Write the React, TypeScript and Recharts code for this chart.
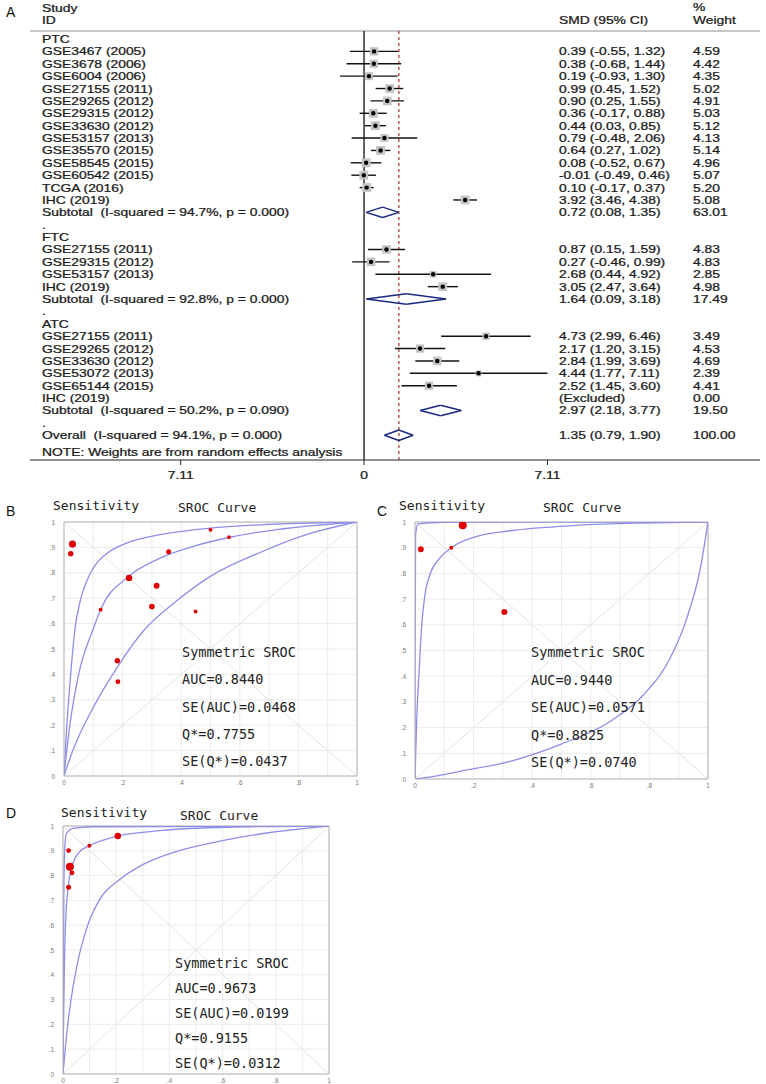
import React from 'react';
import { ComposedChart, XAxis, YAxis, Scatter, Line, ReferenceLine, CartesianGrid } from 'recharts';

// ---- Panel A: forest plot rows ----
const rowLabels = [
  'PTC', 'GSE3467 (2005)', 'GSE3678 (2006)', 'GSE6004 (2006)', 'GSE27155 (2011)', 'GSE29265 (2012)',
  'GSE29315 (2012)', 'GSE33630 (2012)', 'GSE53157 (2013)', 'GSE35570 (2015)', 'GSE58545 (2015)',
  'GSE60542 (2015)', 'TCGA (2016)', 'IHC (2019)', 'Subtotal  (I-squared = 94.7%, p = 0.000)', '.',
  'FTC', 'GSE27155 (2011)', 'GSE29315 (2012)', 'GSE53157 (2013)', 'IHC (2019)',
  'Subtotal  (I-squared = 92.8%, p = 0.000)', '.',
  'ATC', 'GSE27155 (2011)', 'GSE29265 (2012)', 'GSE33630 (2012)', 'GSE53072 (2013)', 'GSE65144 (2015)',
  'IHC (2019)', 'Subtotal  (I-squared = 50.2%, p = 0.090)', '.',
  'Overall  (I-squared = 94.1%, p = 0.000)',
];
// study | sub | excl | head
const rowKinds = [
  'head', 'study', 'study', 'study', 'study', 'study', 'study', 'study', 'study', 'study', 'study', 'study', 'study', 'study', 'sub', 'head',
  'head', 'study', 'study', 'study', 'study', 'sub', 'head',
  'head', 'study', 'study', 'study', 'study', 'study', 'excl', 'sub', 'head',
  'sub',
];
const smdEst = [
  null, 0.39, 0.38, 0.19, 0.99, 0.90, 0.36, 0.44, 0.79, 0.64, 0.08, -0.01, 0.10, 3.92, 0.72, null,
  null, 0.87, 0.27, 2.68, 3.05, 1.64, null,
  null, 4.73, 2.17, 2.84, 4.44, 2.52, null, 2.97, null,
  1.35,
];
const ciLow = [
  null, -0.55, -0.68, -0.93, 0.45, 0.25, -0.17, 0.03, -0.48, 0.27, -0.52, -0.49, -0.17, 3.46, 0.08, null,
  null, 0.15, -0.46, 0.44, 2.47, 0.09, null,
  null, 2.99, 1.20, 1.99, 1.77, 1.45, null, 2.18, null,
  0.79,
];
const ciHigh = [
  null, 1.32, 1.44, 1.30, 1.52, 1.55, 0.88, 0.85, 2.06, 1.02, 0.67, 0.46, 0.37, 4.38, 1.35, null,
  null, 1.59, 0.99, 4.92, 3.64, 3.18, null,
  null, 6.46, 3.15, 3.69, 7.11, 3.60, null, 3.77, null,
  1.90,
];
const weights = [
  null, 4.59, 4.42, 4.35, 5.02, 4.91, 5.03, 5.12, 4.13, 5.14, 4.96, 5.07, 5.20, 5.08, 63.01, null,
  null, 4.83, 4.83, 2.85, 4.98, 17.49, null,
  null, 3.49, 4.53, 4.69, 2.39, 4.41, 0.0, 19.50, null,
  100.0,
];
const axisTicks = [-7.11, 0, 7.11];

// ---- SROC panels (false positive rate, sensitivity, relative study weight) ----
const bFpr = [0.029, 0.023, 0.5, 0.563, 0.357, 0.222, 0.316, 0.125, 0.30, 0.449, 0.182, 0.184];
const bSens = [0.913, 0.875, 0.969, 0.94, 0.883, 0.78, 0.749, 0.655, 0.667, 0.648, 0.454, 0.371];
const bW = [7.6, 4.3, 2.3, 2.1, 3.7, 6.2, 5.0, 2.3, 4.7, 2.3, 4.3, 3.4];
const bUpper = [[0, 0], [0.008, 0.17], [0.02, 0.36], [0.038, 0.583], [0.055, 0.688], [0.077, 0.766], [0.1, 0.819], [0.157, 0.885], [0.214, 0.917], [0.328, 0.95], [0.498, 0.976], [0.669, 0.989], [1, 1]];
const bMid = [[0, 0], [0.02, 0.2], [0.05, 0.4], [0.1, 0.58], [0.129, 0.665], [0.214, 0.78], [0.328, 0.858], [0.441, 0.904], [0.567, 0.94], [0.726, 0.97], [1, 1]];
const bLower = [[0, 0], [0.03, 0.1], [0.1, 0.27], [0.18, 0.425], [0.27, 0.57], [0.385, 0.69], [0.498, 0.785], [0.669, 0.88], [0.84, 0.955], [1, 1]];

const cFpr = [0.02, 0.124, 0.163, 0.305];
const cSens = [0.894, 0.90, 0.987, 0.65];
const cW = [5.0, 2.3, 9.5, 5.4];
const cUpper = [[0, 0], [0.0005, 0.5], [0.002, 0.95], [0.01, 0.993], [0.1, 0.999], [1, 1]];
const cMid = [[0, 0], [0.006, 0.237], [0.015, 0.44], [0.023, 0.6], [0.034, 0.717], [0.051, 0.795], [0.085, 0.86], [0.124, 0.9], [0.211, 0.944], [0.325, 0.966], [0.552, 0.987], [0.78, 0.996], [1, 1]];
const cLower = [[0, 0], [0.04, 0.006], [0.154, 0.03], [0.325, 0.069], [0.495, 0.134], [0.666, 0.224], [0.78, 0.328], [0.871, 0.471], [0.928, 0.626], [0.974, 0.821], [1, 1]];

const dFpr = [0.021, 0.099, 0.206, 0.026, 0.034, 0.021];
const dSens = [0.901, 0.92, 0.96, 0.836, 0.811, 0.753];
const dW = [3.4, 2.3, 6.2, 9.5, 3.4, 3.7];
const dUpper = [[0, 0], [0.001, 0.3], [0.003, 0.7], [0.006, 0.9], [0.013, 0.97], [0.038, 0.99], [0.113, 0.997], [1, 1]];
const dMid = [[0, 0], [0.002, 0.2], [0.005, 0.42], [0.01, 0.62], [0.02, 0.757], [0.038, 0.851], [0.063, 0.897], [0.098, 0.92], [0.207, 0.96], [0.364, 0.981], [0.614, 0.995], [1, 1]];
const dLower = [[0, 0], [0.01, 0.12], [0.025, 0.26], [0.05, 0.424], [0.088, 0.584], [0.138, 0.704], [0.213, 0.784], [0.3, 0.844], [0.426, 0.897], [0.614, 0.944], [0.802, 0.977], [1, 1]];

const bStats = ['Symmetric SROC', 'AUC=0.8440', 'SE(AUC)=0.0468', 'Q*=0.7755', 'SE(Q*)=0.0437'];
const cStats = ['Symmetric SROC', 'AUC=0.9440', 'SE(AUC)=0.0571', 'Q*=0.8825', 'SE(Q*)=0.0740'];
const dStats = ['Symmetric SROC', 'AUC=0.9673', 'SE(AUC)=0.0199', 'Q*=0.9155', 'SE(Q*)=0.0312'];
const unitTicks = [0, 0.1, 0.2, 0.3, 0.4, 0.5, 0.6, 0.7, 0.8, 0.9, 1];

// ---- styles ----
const stataFont = {
  fontFamily: 'Liberation Sans, Arial, sans-serif', fontSize: 10.5, fill: '#1a1a1a',
  stroke: '#1a1a1a', strokeWidth: 0.25, whiteSpace: 'pre',
} as React.CSSProperties;
const monoFont = { fontFamily: 'DejaVu Sans Mono, monospace', fill: '#222' } as React.CSSProperties;
const STRETCH = 1.32;
const curveColor = '#8e8ee8';
const yDomain: [number, number] = [-0.646, 34.0];
const xDomain: [number, number] = [-12.95, 15.35];

const fmt = (v: number) => v.toFixed(2);

const Stretched = ({ x, y, children, anchor = 'start' }: any) => (
  <text transform={`translate(${x},${y}) scale(${STRETCH},1)`} textAnchor={anchor} style={stataFont}>{children}</text>
);

const RowTick = (props: any) => {
  const i = props.payload.value as number;
  const y = props.y + 4;
  const kind = rowKinds[i];
  let smdText = '';
  let wText = '';
  if (kind === 'study' || kind === 'sub') {
    smdText = `${fmt(smdEst[i] as number)} (${fmt(ciLow[i] as number)}, ${fmt(ciHigh[i] as number)})`;
    wText = fmt(weights[i] as number);
  } else if (kind === 'excl') {
    smdText = '(Excluded)';
    wText = fmt(weights[i] as number);
  }
  return (
    <g>
      <Stretched x={42} y={y}>{rowLabels[i]}</Stretched>
      {smdText && <Stretched x={559} y={y}>{smdText}</Stretched>}
      {wText && <Stretched x={693} y={y}>{wText}</Stretched>}
    </g>
  );
};

const AxisTick = (props: any) => (
  <Stretched x={props.x} y={props.y + 12} anchor="middle">{String(Math.abs(props.payload.value))}</Stretched>
);

const StudyMark = (props: any) => {
  const s = 3.9 * Math.sqrt(props.payload.w);
  return (
    <g>
      <rect x={props.cx - s / 2} y={props.cy - s / 2} width={s} height={s} fill="#c4c4c4" />
      <circle cx={props.cx} cy={props.cy} r={2.2} fill="#000" />
    </g>
  );
};

const rowIdx = rowLabels.map((_, i) => i);
const studyPts = rowIdx
  .filter((i) => rowKinds[i] === 'study')
  .map((i) => ({ x: smdEst[i] as number, y: i, w: weights[i] as number }));
const ciRows = rowIdx.filter((i) => rowKinds[i] === 'study');
const diamondRows = rowIdx.filter((i) => rowKinds[i] === 'sub');
const DH = 0.42;

const ForestPlot = () => (
  <div style={{ position: 'absolute', left: 0, top: 0 }}>
    <ComposedChart width={766} height={484} margin={{ top: 31, right: 6, left: 28, bottom: 0 }}>
      <XAxis type="number" dataKey="x" domain={xDomain} allowDataOverflow ticks={axisTicks} interval={0} height={24}
        axisLine={{ stroke: '#222' }} tickLine={{ stroke: '#222' }} tickSize={5} tick={(p: any) => <AxisTick {...p} />} />
      <YAxis type="number" dataKey="y" domain={yDomain} allowDataOverflow reversed width={2} ticks={rowIdx} interval={0}
        axisLine={false} tickLine={false} tick={(p: any) => <RowTick {...p} />} />
      <ReferenceLine y={yDomain[0]} stroke="#c8c8c8" strokeWidth={2} ifOverflow="visible" />
      <ReferenceLine x={0} stroke="#111" strokeWidth={1.3} />
      <ReferenceLine x={smdEst[32] as number} stroke="#a8322c" strokeWidth={1.2} strokeDasharray="3 3" />
      {ciRows.map((i) => (
        <ReferenceLine key={`ci${i}`} segment={[{ x: ciLow[i] as number, y: i }, { x: ciHigh[i] as number, y: i }]}
          stroke="#111" strokeWidth={1.4} ifOverflow="visible" />
      ))}
      {diamondRows.map((i) => {
        const lo = ciLow[i] as number, hi = ciHigh[i] as number, m = smdEst[i] as number;
        const edges = [
          [{ x: lo, y: i }, { x: m, y: i - DH }],
          [{ x: m, y: i - DH }, { x: hi, y: i }],
          [{ x: hi, y: i }, { x: m, y: i + DH }],
          [{ x: m, y: i + DH }, { x: lo, y: i }],
        ];
        return edges.map((seg, k) => (
          <ReferenceLine key={`d${i}-${k}`} segment={seg as any} stroke="#1b2a80" strokeWidth={1.5} ifOverflow="visible" />
        ));
      })}
      <Scatter data={studyPts} shape={(p: any) => <StudyMark {...p} />} isAnimationActive={false} />
    </ComposedChart>
  </div>
);

// ---- SROC panels ----
const tenth = (v: number) => (v === 0 ? '0' : v === 1 ? '1' : '.' + Math.round(v * 10));

const SrocYTick = (props: any) => (
  <text x={props.x - 1} y={props.y + 2.5} textAnchor="end" fontSize={6.5} fill="#777" fontFamily="Liberation Sans, Arial">
    {tenth(props.payload.value)}
  </text>
);
const SrocXTick = (props: any) => {
  const v = props.payload.value as number;
  if (Math.round(v * 10) % 2 !== 0) return <g />;
  return (
    <text x={props.x} y={props.y + 1} textAnchor="middle" fontSize={6.5} fill="#777" fontFamily="Liberation Sans, Arial">
      {tenth(v)}
    </text>
  );
};

const RedDot = (props: any) => (
  <circle cx={props.cx} cy={props.cy} r={1.3 * Math.sqrt(props.payload.w)} fill="#e00000" />
);

const toPts = (c: number[][]) => c.map(([x, y]) => ({ x, y }));

const SrocPanel = ({ left, top, w, h, fpr, sens, wt, curves }: any) => {
  const dots = fpr.map((x: number, i: number) => ({ x, y: sens[i], w: wt[i] }));
  return (
    <div style={{ position: 'absolute', left: left - 30, top: top - 10 }}>
      <ComposedChart width={w + 40} height={h + 25} margin={{ top: 10, right: 10, left: 14, bottom: 0 }}>
        <CartesianGrid stroke="#ececec" />
        <XAxis type="number" dataKey="x" domain={[0, 1]} allowDataOverflow ticks={unitTicks} interval={0} height={15}
          axisLine={{ stroke: '#b4b4b4' }} tickLine={false} tick={(p: any) => <SrocXTick {...p} />} />
        <YAxis type="number" dataKey="y" domain={[0, 1]} allowDataOverflow ticks={unitTicks} interval={0} width={16}
          axisLine={{ stroke: '#b4b4b4' }} tickLine={false} tick={(p: any) => <SrocYTick {...p} />} />
        <ReferenceLine y={1} stroke="#b4b4b4" ifOverflow="visible" />
        <ReferenceLine x={1} stroke="#b4b4b4" ifOverflow="visible" />
        <ReferenceLine segment={[{ x: 0, y: 0 }, { x: 1, y: 1 }]} stroke="#e2e2e2" ifOverflow="visible" />
        <ReferenceLine segment={[{ x: 0, y: 1 }, { x: 1, y: 0 }]} stroke="#e2e2e2" ifOverflow="visible" />
        {curves.map((c: number[][], k: number) => (
          <Line key={k} data={toPts(c)} dataKey="y" type="monotone" stroke={curveColor} strokeWidth={1.3}
            dot={false} activeDot={false} isAnimationActive={false} />
        ))}
        <Scatter data={dots} shape={(p: any) => <RedDot {...p} />} isAnimationActive={false} />
      </ComposedChart>
    </div>
  );
};

const StatBlock = ({ x, y, lines, gap }: any) => (
  <>
    {lines.map((t: string, i: number) => (
      <text key={i} x={x} y={y + i * gap} fontSize={13.5} style={monoFont}>{t}</text>
    ))}
  </>
);

const Letter = ({ x, y, children }: any) => (
  <text x={x} y={y} fontSize={14} fontFamily="Liberation Sans, Arial" fill="#111">{children}</text>
);

const Mono = ({ x, y, children }: any) => (
  <text x={x} y={y} fontSize={13} style={monoFont}>{children}</text>
);

export default function App() {
  return (
    <div style={{ position: 'absolute', left: 0, top: 0, width: 766, height: 1084, background: '#fff', overflow: 'hidden' }}>
      <ForestPlot />
      <SrocPanel left={64} top={522} w={293} h={254} fpr={bFpr} sens={bSens} wt={bW} curves={[bUpper, bMid, bLower]} />
      <SrocPanel left={415} top={522} w={293} h={257} fpr={cFpr} sens={cSens} wt={cW} curves={[cUpper, cMid, cLower]} />
      <SrocPanel left={63} top={826} w={266} h={248} fpr={dFpr} sens={dSens} wt={dW} curves={[dUpper, dMid, dLower]} />
      <svg width={766} height={1084} style={{ position: 'absolute', left: 0, top: 0, pointerEvents: 'none' }}>
        <Letter x={6} y={17}>A</Letter>
        <Stretched x={42} y={11.5}>Study</Stretched>
        <Stretched x={42} y={23.5}>ID</Stretched>
        <Stretched x={559} y={23.5}>SMD (95% CI)</Stretched>
        <Stretched x={693} y={10.5}>%</Stretched>
        <Stretched x={693} y={23.5}>Weight</Stretched>
        <Stretched x={42} y={455.5}>NOTE: Weights are from random effects analysis</Stretched>

        <Letter x={6} y={516}>B</Letter>
        <Mono x={53} y={510}>Sensitivity</Mono>
        <Mono x={178} y={512}>SROC Curve</Mono>
        <StatBlock x={182} y={657} lines={bStats} gap={27.3} />

        <Letter x={377} y={516}>C</Letter>
        <Mono x={399} y={510}>Sensitivity</Mono>
        <Mono x={543} y={512}>SROC Curve</Mono>
        <StatBlock x={531} y={657} lines={cStats} gap={27.6} />

        <Letter x={6} y={818}>D</Letter>
        <Mono x={61} y={817}>Sensitivity</Mono>
        <Mono x={180} y={820}>SROC Curve</Mono>
        <StatBlock x={175} y={968} lines={dStats} gap={25} />
      </svg>
    </div>
  );
}
